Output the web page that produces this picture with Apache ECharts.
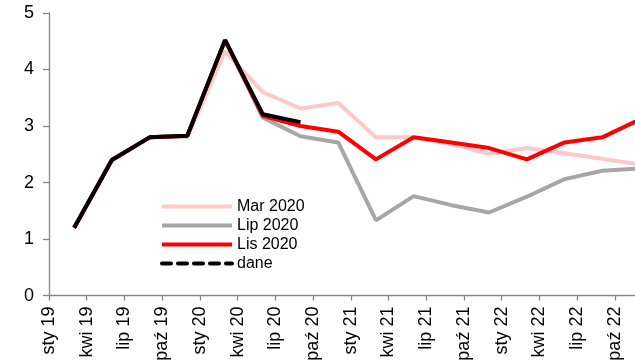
<!DOCTYPE html>
<html><head><meta charset="utf-8">
<script src="https://cdn.jsdelivr.net/npm/echarts@6/dist/echarts.min.js"></script>
<style>html,body{margin:0;padding:0;background:#fff}#c{width:635px;height:360px}</style>
</head><body><div id="c"></div>
<script>
// x positions in months from Jan 2019 (quarterly points)
const months = [2, 5, 8, 11, 14, 17, 20, 23, 26, 29, 32, 35, 38, 41, 44, 47];
const tickLabels = ['sty 19','kwi 19','lip 19','paź 19','sty 20','kwi 20','lip 20','paź 20',
                    'sty 21','kwi 21','lip 21','paź 21','sty 22','kwi 22','lip 22','paź 22'];
const tickMonths = [0, 3, 6, 9, 12, 15, 18, 21, 24, 27, 30, 33, 36, 39, 42, 45];
const mar2020 = [1.2, 2.4, 2.8, 2.8, 4.32, 3.6, 3.31, 3.41, 2.8, 2.8, 2.68, 2.51, 2.61, 2.52, 2.42, 2.32];
const lip2020 = [1.2, 2.4, 2.8, 2.83, 4.52, 3.15, 2.82, 2.71, 1.33, 1.76, 1.6, 1.47, 1.75, 2.06, 2.21, 2.25];
const lis2020 = [1.2, 2.4, 2.8, 2.83, 4.52, 3.18, 3.0, 2.9, 2.41, 2.8, 2.71, 2.61, 2.41, 2.71, 2.8, 3.12];
const dane    = [1.2, 2.4, 2.8, 2.83, 4.52, 3.21, 3.07];

const pair = (vals) => vals.map((v, i) => [months[i], v]);
const FONT = 'Liberation Sans, Arial, sans-serif';
const chart = echarts.init(document.getElementById('c'), null, {renderer: 'canvas'});
const mk = (name, vals, color) => ({
  name, type: 'line', data: pair(vals), symbol: 'none', showSymbol: false, clip: true,
  lineStyle: {color, width: 4}, itemStyle: {color}, animation: false
});
chart.setOption({
  animation: false,
  textStyle: {fontFamily: FONT},
  grid: {left: 49, top: 13, right: 0, bottom: 64.4, containLabel: false, outerBoundsMode: 'none'},
  xAxis: {
    type: 'value', min: 0, max: 46.6, interval: 3,
    splitLine: {show: false},
    axisLine: {show: true, onZero: false, lineStyle: {color: '#868686', width: 1.3}},
    axisTick: {show: true, length: 5, inside: false, customValues: tickMonths, lineStyle: {color: '#868686', width: 1.3}},
    axisLabel: {
      rotate: 90, margin: 11, fontSize: 18, color: '#000', fontFamily: FONT,
      customValues: tickMonths,
      formatter: (v) => { const i = tickMonths.indexOf(Math.round(v)); return i >= 0 ? tickLabels[i] : ''; }
    }
  },
  yAxis: {
    type: 'value', min: 0, max: 5, interval: 1,
    splitLine: {show: false},
    axisLine: {show: true, lineStyle: {color: '#868686', width: 1.3}},
    axisTick: {show: true, length: 6, lineStyle: {color: '#868686', width: 1.3}},
    axisLabel: {fontSize: 18, color: '#000', margin: 15, fontFamily: FONT}
  },
  legend: {
    orient: 'vertical', left: 160, top: 197, padding: 0, itemGap: 0,
    itemWidth: 70, itemHeight: 19,
    itemStyle: {opacity: 0},
    lineStyle: {width: 4},
    textStyle: {fontSize: 16, color: '#000', lineHeight: 19, fontFamily: FONT},
    data: [
      {name: 'Mar 2020'}, {name: 'Lip 2020'}, {name: 'Lis 2020'},
      {name: 'dane', lineStyle: {type: [9, 7], cap: 'round', width: 4}}
    ]
  },
  series: [
    mk('Mar 2020', mar2020, '#FFC8C8'),
    mk('Lip 2020', lip2020, '#A6A6A6'),
    mk('Lis 2020', lis2020, '#FF0000'),
    mk('dane', dane, '#000000')
  ]
});
</script></body></html>
